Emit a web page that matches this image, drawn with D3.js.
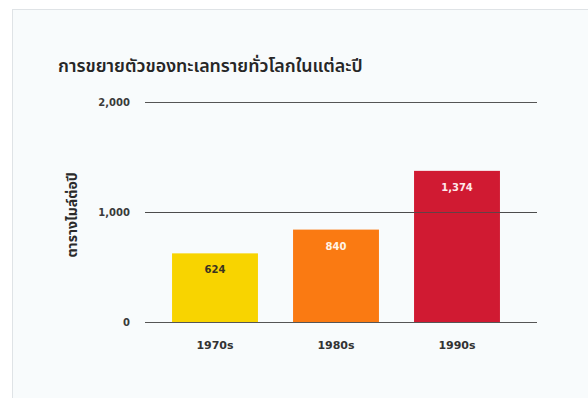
<!DOCTYPE html>
<html>
<head>
<meta charset="utf-8">
<script src="https://cdn.jsdelivr.net/npm/d3@7"></script>
<style>
  html, body { margin: 0; padding: 0; background: #ffffff; }
  svg { display: block; font-family: "Noto Sans Thai", "Noto Sans", "DejaVu Sans", sans-serif; }
</style>
</head>
<body>
<svg id="chart" width="588" height="398"></svg>
<script>
// Desert expansion per decade (square miles per year)
const categories = ["1970s", "1980s", "1990s"];
const values = [624, 840, 1374];
const barColors = ["#f8d400", "#fa7a12", "#d01a32"];
const labelColors = ["#3a3320", "#fff4e6", "#ffe8ea"];
const yTicks = [0, 1000, 2000];
const title = "การขยายตัวของทะเลทรายทั่วโลกในแต่ละปี";
const yTitle = "ตารางไมล์ต่อปี";

const numFont = "'DejaVu Sans', Verdana, sans-serif";
const svg = d3.select("#chart");

// Panel background
svg.append("rect")
  .attr("x", 12.5).attr("y", 9.5)
  .attr("width", 580).attr("height", 400)
  .attr("fill", "#f8fbfc")
  .attr("stroke", "#dfe3e6")
  .attr("stroke-width", 1);

const x = d3.scaleBand()
  .domain(categories)
  .range([154.5, 517.5])
  .paddingInner(0.29)
  .paddingOuter(0.145);

const y = d3.scaleLinear()
  .domain([0, 2000])
  .range([322, 102]);

// Title
svg.append("text")
  .attr("x", 58).attr("y", 72)
  .attr("font-size", 17.8)
  .attr("font-weight", 600)
  .attr("fill", "#262626")
  .text(title);

// Gridlines and tick labels
const yAxis = d3.axisLeft(y)
  .tickValues(yTicks)
  .tickSize(-392)
  .tickPadding(15)
  .tickFormat(d3.format(","));

const gy = svg.append("g")
  .attr("transform", "translate(145,0)")
  .call(yAxis);
gy.select(".domain").remove();
gy.selectAll(".tick line")
  .attr("stroke", "#555555")
  .attr("stroke-width", 1);
gy.selectAll(".tick text")
  .style("font-size", "10px")
  .style("font-weight", 700)
  .style("font-family", numFont)
  .attr("fill", "#3a3a3a");

// Y axis title
svg.append("text")
  .attr("transform", `translate(77,${y(1000) + 3}) rotate(-90)`)
  .attr("text-anchor", "middle")
  .attr("font-size", 14)
  .attr("font-weight", 700)
  .attr("fill", "#2a2a2a")
  .text(yTitle);

// Bars
svg.append("g").selectAll("rect")
  .data(values)
  .join("rect")
  .attr("x", (d, i) => x(categories[i]))
  .attr("y", d => y(d))
  .attr("width", x.bandwidth())
  .attr("height", d => y(0) - y(d))
  .attr("fill", (d, i) => barColors[i]);

// Redraw the 1,000 line over the bars where it crosses them
svg.append("line")
  .attr("x1", 145).attr("x2", 537)
  .attr("y1", y(1000) + 0.5).attr("y2", y(1000) + 0.5)
  .attr("stroke", "#4a4a4a").attr("stroke-opacity", 0.8);

// Value labels
svg.append("g").selectAll("text")
  .data(values)
  .join("text")
  .attr("x", (d, i) => x(categories[i]) + x.bandwidth() / 2)
  .attr("y", d => y(d) + 20)
  .attr("text-anchor", "middle")
  .style("font-size", "10px")
  .style("font-weight", 700)
  .style("font-family", numFont)
  .attr("fill", (d, i) => labelColors[i])
  .text(d => d3.format(",")(d));

// Category labels
svg.append("g").selectAll("text")
  .data(categories)
  .join("text")
  .attr("x", d => x(d) + x.bandwidth() / 2)
  .attr("y", 349)
  .attr("text-anchor", "middle")
  .style("font-size", "11px")
  .style("font-weight", 700)
  .style("font-family", numFont)
  .attr("fill", "#333333")
  .text(d => d);
</script>
</body>
</html>
